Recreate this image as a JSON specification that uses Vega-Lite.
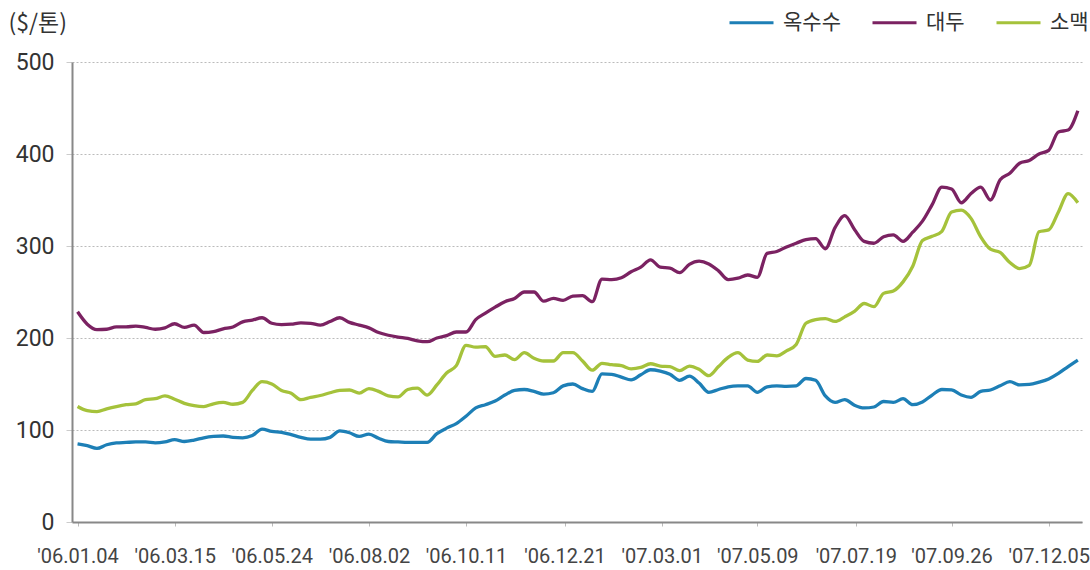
{
  "$schema": "https://vega.github.io/schema/vega-lite/v6.json",
  "width": 1010,
  "height": 460,
  "autosize": {"type": "none"},
  "padding": {"left": 72, "top": 62, "right": 8, "bottom": 48},
  "background": "white",
  "config": {"view": {"stroke": null}},
  "data": {"values": [
{"d":"2006-01-04","k":"옥수수","v":85},{"d":"2006-01-11","k":"옥수수","v":83},{"d":"2006-01-18","k":"옥수수","v":80},{"d":"2006-01-25","k":"옥수수","v":84},{"d":"2006-02-01","k":"옥수수","v":86},{"d":"2006-02-08","k":"옥수수","v":86.5},{"d":"2006-02-15","k":"옥수수","v":87},{"d":"2006-02-22","k":"옥수수","v":87},{"d":"2006-03-01","k":"옥수수","v":86},{"d":"2006-03-08","k":"옥수수","v":87},
{"d":"2006-03-15","k":"옥수수","v":89.5},{"d":"2006-03-22","k":"옥수수","v":87.5},{"d":"2006-03-29","k":"옥수수","v":89},{"d":"2006-04-05","k":"옥수수","v":91.5},{"d":"2006-04-12","k":"옥수수","v":93},{"d":"2006-04-19","k":"옥수수","v":93.5},{"d":"2006-04-26","k":"옥수수","v":92},{"d":"2006-05-03","k":"옥수수","v":91.5},{"d":"2006-05-10","k":"옥수수","v":94},{"d":"2006-05-17","k":"옥수수","v":101},
{"d":"2006-05-24","k":"옥수수","v":98.5},{"d":"2006-05-31","k":"옥수수","v":97.5},{"d":"2006-06-07","k":"옥수수","v":95},{"d":"2006-06-14","k":"옥수수","v":92},{"d":"2006-06-21","k":"옥수수","v":90},{"d":"2006-06-28","k":"옥수수","v":90},{"d":"2006-07-05","k":"옥수수","v":92},{"d":"2006-07-12","k":"옥수수","v":99},{"d":"2006-07-19","k":"옥수수","v":97},{"d":"2006-07-26","k":"옥수수","v":93},
{"d":"2006-08-02","k":"옥수수","v":95.5},{"d":"2006-08-09","k":"옥수수","v":91},{"d":"2006-08-16","k":"옥수수","v":87.5},{"d":"2006-08-23","k":"옥수수","v":87},{"d":"2006-08-30","k":"옥수수","v":86.5},{"d":"2006-09-06","k":"옥수수","v":86.5},{"d":"2006-09-13","k":"옥수수","v":86.5},{"d":"2006-09-20","k":"옥수수","v":96},{"d":"2006-09-27","k":"옥수수","v":102},{"d":"2006-10-04","k":"옥수수","v":107},
{"d":"2006-10-11","k":"옥수수","v":115},{"d":"2006-10-18","k":"옥수수","v":124},{"d":"2006-10-25","k":"옥수수","v":127.5},{"d":"2006-11-01","k":"옥수수","v":131.5},{"d":"2006-11-08","k":"옥수수","v":138},{"d":"2006-11-15","k":"옥수수","v":143},{"d":"2006-11-22","k":"옥수수","v":144},{"d":"2006-11-29","k":"옥수수","v":142},{"d":"2006-12-06","k":"옥수수","v":139},{"d":"2006-12-13","k":"옥수수","v":140.5},
{"d":"2006-12-20","k":"옥수수","v":148},{"d":"2006-12-27","k":"옥수수","v":150},{"d":"2007-01-03","k":"옥수수","v":145},{"d":"2007-01-10","k":"옥수수","v":142},{"d":"2007-01-17","k":"옥수수","v":161},{"d":"2007-01-24","k":"옥수수","v":160.5},{"d":"2007-01-31","k":"옥수수","v":157.5},{"d":"2007-02-07","k":"옥수수","v":154.5},{"d":"2007-02-14","k":"옥수수","v":160},{"d":"2007-02-21","k":"옥수수","v":165.5},
{"d":"2007-02-28","k":"옥수수","v":164},{"d":"2007-03-07","k":"옥수수","v":160.5},{"d":"2007-03-14","k":"옥수수","v":154},{"d":"2007-03-21","k":"옥수수","v":158.5},{"d":"2007-03-28","k":"옥수수","v":151},{"d":"2007-04-04","k":"옥수수","v":141},{"d":"2007-04-11","k":"옥수수","v":144},{"d":"2007-04-18","k":"옥수수","v":147},{"d":"2007-04-25","k":"옥수수","v":148},{"d":"2007-05-02","k":"옥수수","v":148},
{"d":"2007-05-09","k":"옥수수","v":141},{"d":"2007-05-16","k":"옥수수","v":147},{"d":"2007-05-23","k":"옥수수","v":148},{"d":"2007-05-30","k":"옥수수","v":147.5},{"d":"2007-06-06","k":"옥수수","v":148},{"d":"2007-06-13","k":"옥수수","v":156},{"d":"2007-06-20","k":"옥수수","v":154},{"d":"2007-06-27","k":"옥수수","v":137},{"d":"2007-07-04","k":"옥수수","v":130},{"d":"2007-07-11","k":"옥수수","v":133},
{"d":"2007-07-18","k":"옥수수","v":127},{"d":"2007-07-25","k":"옥수수","v":124},{"d":"2007-08-01","k":"옥수수","v":125},{"d":"2007-08-08","k":"옥수수","v":131},{"d":"2007-08-15","k":"옥수수","v":130},{"d":"2007-08-22","k":"옥수수","v":134},{"d":"2007-08-29","k":"옥수수","v":127.5},{"d":"2007-09-05","k":"옥수수","v":130.5},{"d":"2007-09-12","k":"옥수수","v":138},{"d":"2007-09-19","k":"옥수수","v":144},
{"d":"2007-09-26","k":"옥수수","v":143.5},{"d":"2007-10-03","k":"옥수수","v":138},{"d":"2007-10-10","k":"옥수수","v":135.5},{"d":"2007-10-17","k":"옥수수","v":142},{"d":"2007-10-24","k":"옥수수","v":143.5},{"d":"2007-10-31","k":"옥수수","v":148},{"d":"2007-11-07","k":"옥수수","v":152.5},{"d":"2007-11-14","k":"옥수수","v":149},{"d":"2007-11-21","k":"옥수수","v":149.5},{"d":"2007-11-28","k":"옥수수","v":152},
{"d":"2007-12-05","k":"옥수수","v":155.5},{"d":"2007-12-12","k":"옥수수","v":161.5},{"d":"2007-12-19","k":"옥수수","v":169},{"d":"2007-12-26","k":"옥수수","v":176},
{"d":"2006-01-04","k":"대두","v":228.5},{"d":"2006-01-11","k":"대두","v":215},{"d":"2006-01-18","k":"대두","v":209},{"d":"2006-01-25","k":"대두","v":209.5},{"d":"2006-02-01","k":"대두","v":212},{"d":"2006-02-08","k":"대두","v":212},{"d":"2006-02-15","k":"대두","v":213},{"d":"2006-02-22","k":"대두","v":211.5},{"d":"2006-03-01","k":"대두","v":209.5},{"d":"2006-03-08","k":"대두","v":211},
{"d":"2006-03-15","k":"대두","v":215.5},{"d":"2006-03-22","k":"대두","v":211.5},{"d":"2006-03-29","k":"대두","v":214},{"d":"2006-04-05","k":"대두","v":206},{"d":"2006-04-12","k":"대두","v":207},{"d":"2006-04-19","k":"대두","v":210},{"d":"2006-04-26","k":"대두","v":212},{"d":"2006-05-03","k":"대두","v":217.5},{"d":"2006-05-10","k":"대두","v":219.5},{"d":"2006-05-17","k":"대두","v":222},
{"d":"2006-05-24","k":"대두","v":216},{"d":"2006-05-31","k":"대두","v":214.5},{"d":"2006-06-07","k":"대두","v":215},{"d":"2006-06-14","k":"대두","v":216.5},{"d":"2006-06-21","k":"대두","v":216},{"d":"2006-06-28","k":"대두","v":214},{"d":"2006-07-05","k":"대두","v":218},{"d":"2006-07-12","k":"대두","v":222},{"d":"2006-07-19","k":"대두","v":217},{"d":"2006-07-26","k":"대두","v":214},
{"d":"2006-08-02","k":"대두","v":211},{"d":"2006-08-09","k":"대두","v":206},{"d":"2006-08-16","k":"대두","v":203},{"d":"2006-08-23","k":"대두","v":201},{"d":"2006-08-30","k":"대두","v":199.5},{"d":"2006-09-06","k":"대두","v":197},{"d":"2006-09-13","k":"대두","v":196},{"d":"2006-09-20","k":"대두","v":200},{"d":"2006-09-27","k":"대두","v":202.5},{"d":"2006-10-04","k":"대두","v":206.5},
{"d":"2006-10-11","k":"대두","v":206.5},{"d":"2006-10-18","k":"대두","v":220},{"d":"2006-10-25","k":"대두","v":227},{"d":"2006-11-01","k":"대두","v":233.5},{"d":"2006-11-08","k":"대두","v":239.5},{"d":"2006-11-15","k":"대두","v":243},{"d":"2006-11-22","k":"대두","v":250},{"d":"2006-11-29","k":"대두","v":250},{"d":"2006-12-06","k":"대두","v":240},{"d":"2006-12-13","k":"대두","v":243},
{"d":"2006-12-20","k":"대두","v":241},{"d":"2006-12-27","k":"대두","v":245.5},{"d":"2007-01-03","k":"대두","v":246},{"d":"2007-01-10","k":"대두","v":239.5},{"d":"2007-01-17","k":"대두","v":264},{"d":"2007-01-24","k":"대두","v":263.5},{"d":"2007-01-31","k":"대두","v":265.5},{"d":"2007-02-07","k":"대두","v":272},{"d":"2007-02-14","k":"대두","v":277},{"d":"2007-02-21","k":"대두","v":285},
{"d":"2007-02-28","k":"대두","v":277},{"d":"2007-03-07","k":"대두","v":276},{"d":"2007-03-14","k":"대두","v":271},{"d":"2007-03-21","k":"대두","v":280},{"d":"2007-03-28","k":"대두","v":283.5},{"d":"2007-04-04","k":"대두","v":280.5},{"d":"2007-04-11","k":"대두","v":273},{"d":"2007-04-18","k":"대두","v":263.5},{"d":"2007-04-25","k":"대두","v":265},{"d":"2007-05-02","k":"대두","v":268.5},
{"d":"2007-05-09","k":"대두","v":266},{"d":"2007-05-16","k":"대두","v":292},{"d":"2007-05-23","k":"대두","v":294},{"d":"2007-05-30","k":"대두","v":299},{"d":"2007-06-06","k":"대두","v":303},{"d":"2007-06-13","k":"대두","v":307},{"d":"2007-06-20","k":"대두","v":308},{"d":"2007-06-27","k":"대두","v":297},{"d":"2007-07-04","k":"대두","v":320},{"d":"2007-07-11","k":"대두","v":333},
{"d":"2007-07-18","k":"대두","v":318},{"d":"2007-07-25","k":"대두","v":305},{"d":"2007-08-01","k":"대두","v":303},{"d":"2007-08-08","k":"대두","v":310},{"d":"2007-08-15","k":"대두","v":312},{"d":"2007-08-22","k":"대두","v":305},{"d":"2007-08-29","k":"대두","v":315},{"d":"2007-09-05","k":"대두","v":327},{"d":"2007-09-12","k":"대두","v":345},{"d":"2007-09-19","k":"대두","v":364},
{"d":"2007-09-26","k":"대두","v":362},{"d":"2007-10-03","k":"대두","v":347},{"d":"2007-10-10","k":"대두","v":357},{"d":"2007-10-17","k":"대두","v":364},{"d":"2007-10-24","k":"대두","v":350},{"d":"2007-10-31","k":"대두","v":372},{"d":"2007-11-07","k":"대두","v":379},{"d":"2007-11-14","k":"대두","v":390},{"d":"2007-11-21","k":"대두","v":393},{"d":"2007-11-28","k":"대두","v":400},
{"d":"2007-12-05","k":"대두","v":404},{"d":"2007-12-12","k":"대두","v":424},{"d":"2007-12-19","k":"대두","v":426},{"d":"2007-12-26","k":"대두","v":447},
{"d":"2006-01-04","k":"소맥","v":125.5},{"d":"2006-01-11","k":"소맥","v":121},{"d":"2006-01-18","k":"소맥","v":120},{"d":"2006-01-25","k":"소맥","v":123},{"d":"2006-02-01","k":"소맥","v":125.5},{"d":"2006-02-08","k":"소맥","v":127.5},{"d":"2006-02-15","k":"소맥","v":128.5},{"d":"2006-02-22","k":"소맥","v":133},{"d":"2006-03-01","k":"소맥","v":134},{"d":"2006-03-08","k":"소맥","v":137},
{"d":"2006-03-15","k":"소맥","v":133.5},{"d":"2006-03-22","k":"소맥","v":129},{"d":"2006-03-29","k":"소맥","v":126.5},{"d":"2006-04-05","k":"소맥","v":125.5},{"d":"2006-04-12","k":"소맥","v":128.5},{"d":"2006-04-19","k":"소맥","v":130},{"d":"2006-04-26","k":"소맥","v":128},{"d":"2006-05-03","k":"소맥","v":130},{"d":"2006-05-10","k":"소맥","v":143},{"d":"2006-05-17","k":"소맥","v":152.5},
{"d":"2006-05-24","k":"소맥","v":150},{"d":"2006-05-31","k":"소맥","v":143},{"d":"2006-06-07","k":"소맥","v":140},{"d":"2006-06-14","k":"소맥","v":133},{"d":"2006-06-21","k":"소맥","v":135.5},{"d":"2006-06-28","k":"소맥","v":137.5},{"d":"2006-07-05","k":"소맥","v":140.5},{"d":"2006-07-12","k":"소맥","v":143},{"d":"2006-07-19","k":"소맥","v":143.5},{"d":"2006-07-26","k":"소맥","v":140},
{"d":"2006-08-02","k":"소맥","v":145},{"d":"2006-08-09","k":"소맥","v":142},{"d":"2006-08-16","k":"소맥","v":137},{"d":"2006-08-23","k":"소맥","v":136},{"d":"2006-08-30","k":"소맥","v":144},{"d":"2006-09-06","k":"소맥","v":145.5},{"d":"2006-09-13","k":"소맥","v":138},{"d":"2006-09-20","k":"소맥","v":149},{"d":"2006-09-27","k":"소맥","v":162},{"d":"2006-10-04","k":"소맥","v":170},
{"d":"2006-10-11","k":"소맥","v":192},{"d":"2006-10-18","k":"소맥","v":190},{"d":"2006-10-25","k":"소맥","v":190.5},{"d":"2006-11-01","k":"소맥","v":180},{"d":"2006-11-08","k":"소맥","v":181.5},{"d":"2006-11-15","k":"소맥","v":176.5},{"d":"2006-11-22","k":"소맥","v":184},{"d":"2006-11-29","k":"소맥","v":178},{"d":"2006-12-06","k":"소맥","v":175},{"d":"2006-12-13","k":"소맥","v":175},
{"d":"2006-12-20","k":"소맥","v":184},{"d":"2006-12-27","k":"소맥","v":184},{"d":"2007-01-03","k":"소맥","v":175},{"d":"2007-01-10","k":"소맥","v":165},{"d":"2007-01-17","k":"소맥","v":172.5},{"d":"2007-01-24","k":"소맥","v":171},{"d":"2007-01-31","k":"소맥","v":170},{"d":"2007-02-07","k":"소맥","v":166.5},{"d":"2007-02-14","k":"소맥","v":168},{"d":"2007-02-21","k":"소맥","v":172},
{"d":"2007-02-28","k":"소맥","v":169.5},{"d":"2007-03-07","k":"소맥","v":169},{"d":"2007-03-14","k":"소맥","v":164.5},{"d":"2007-03-21","k":"소맥","v":169.5},{"d":"2007-03-28","k":"소맥","v":166},{"d":"2007-04-04","k":"소맥","v":159},{"d":"2007-04-11","k":"소맥","v":169},{"d":"2007-04-18","k":"소맥","v":179},{"d":"2007-04-25","k":"소맥","v":184},{"d":"2007-05-02","k":"소맥","v":176},
{"d":"2007-05-09","k":"소맥","v":174.5},{"d":"2007-05-16","k":"소맥","v":181.5},{"d":"2007-05-23","k":"소맥","v":180.5},{"d":"2007-05-30","k":"소맥","v":186},{"d":"2007-06-06","k":"소맥","v":193},{"d":"2007-06-13","k":"소맥","v":216},{"d":"2007-06-20","k":"소맥","v":220},{"d":"2007-06-27","k":"소맥","v":221},{"d":"2007-07-04","k":"소맥","v":218},{"d":"2007-07-11","k":"소맥","v":223},
{"d":"2007-07-18","k":"소맥","v":229},{"d":"2007-07-25","k":"소맥","v":237.5},{"d":"2007-08-01","k":"소맥","v":234},{"d":"2007-08-08","k":"소맥","v":248.5},{"d":"2007-08-15","k":"소맥","v":251},{"d":"2007-08-22","k":"소맥","v":261},{"d":"2007-08-29","k":"소맥","v":278},{"d":"2007-09-05","k":"소맥","v":306},{"d":"2007-09-12","k":"소맥","v":310.5},{"d":"2007-09-19","k":"소맥","v":316},
{"d":"2007-09-26","k":"소맥","v":337},{"d":"2007-10-03","k":"소맥","v":339},{"d":"2007-10-10","k":"소맥","v":330},{"d":"2007-10-17","k":"소맥","v":310},{"d":"2007-10-24","k":"소맥","v":296.5},{"d":"2007-10-31","k":"소맥","v":293},{"d":"2007-11-07","k":"소맥","v":282},{"d":"2007-11-14","k":"소맥","v":275.5},{"d":"2007-11-21","k":"소맥","v":279},{"d":"2007-11-28","k":"소맥","v":315.5},
{"d":"2007-12-05","k":"소맥","v":317.5},{"d":"2007-12-12","k":"소맥","v":337},{"d":"2007-12-19","k":"소맥","v":357},{"d":"2007-12-26","k":"소맥","v":347}
  ]},
  "mark": {"type": "line", "strokeWidth": 3.3, "interpolate": "monotone"},
  "encoding": {
    "x": {
      "field": "d",
      "type": "temporal",
      "scale": {"type": "utc", "domain": [{"year": 2005, "month": 12, "date": 31, "utc": true}, {"year": 2007, "month": 12, "date": 29, "utc": true}]},
      "axis": {
        "title": null,
        "values": [
          {"year": 2006, "month": 1, "date": 4, "utc": true},
          {"year": 2006, "month": 3, "date": 15, "utc": true},
          {"year": 2006, "month": 5, "date": 24, "utc": true},
          {"year": 2006, "month": 8, "date": 2, "utc": true},
          {"year": 2006, "month": 10, "date": 11, "utc": true},
          {"year": 2006, "month": 12, "date": 21, "utc": true},
          {"year": 2007, "month": 3, "date": 1, "utc": true},
          {"year": 2007, "month": 5, "date": 9, "utc": true},
          {"year": 2007, "month": 7, "date": 19, "utc": true},
          {"year": 2007, "month": 9, "date": 26, "utc": true},
          {"year": 2007, "month": 12, "date": 5, "utc": true}
        ],
        "labelExpr": "utcFormat(datum.value, \"'%y.%m.%d\")",
        "grid": false,
        "domainColor": "#888888",
        "domainWidth": 2,
        "tickSize": 4,
        "tickColor": "#bbbbbb",
        "labelFont": "Roboto",
        "labelFontSize": 20,
        "labelColor": "#444444",
        "labelPadding": 20,
        "labelOverlap": false,
        "labelFlush": false
      }
    },
    "y": {
      "field": "v",
      "type": "quantitative",
      "scale": {"domain": [0, 500], "nice": false},
      "axis": {
        "values": [0, 100, 200, 300, 400, 500],
        "title": "($/톤)",
        "titleAngle": 0,
        "titleAlign": "left",
        "titleBaseline": "middle",
        "titleX": -64,
        "titleY": -39,
        "titleFont": "Noto Sans CJK KR",
        "titleFontSize": 23,
        "titleFontWeight": "normal",
        "titleColor": "#333333",
        "grid": true,
        "gridColor": "#bbbbbb",
        "gridDash": [2, 2],
        "domainColor": "#888888",
        "domainWidth": 2,
        "tickSize": 6,
        "tickColor": "#cccccc",
        "labelFont": "Roboto",
        "labelFontSize": 23,
        "labelColor": "#333333",
        "labelPadding": 12
      }
    },
    "color": {
      "field": "k",
      "type": "nominal",
      "scale": {"domain": ["옥수수", "대두", "소맥"], "range": ["#1d7fb6", "#7b2262", "#a5c23b"]},
      "legend": {
        "title": null,
        "orient": "none",
        "legendX": 656,
        "legendY": -63,
        "direction": "horizontal",
        "symbolType": "stroke",
        "symbolSize": 1936,
        "symbolStrokeWidth": 3,
        "labelFont": "Noto Sans CJK KR",
        "labelFontSize": 21,
        "labelColor": "#333333",
        "labelOffset": 8,
        "columnPadding": 25,
        "labelLimit": 200
      }
    }
  }
}
